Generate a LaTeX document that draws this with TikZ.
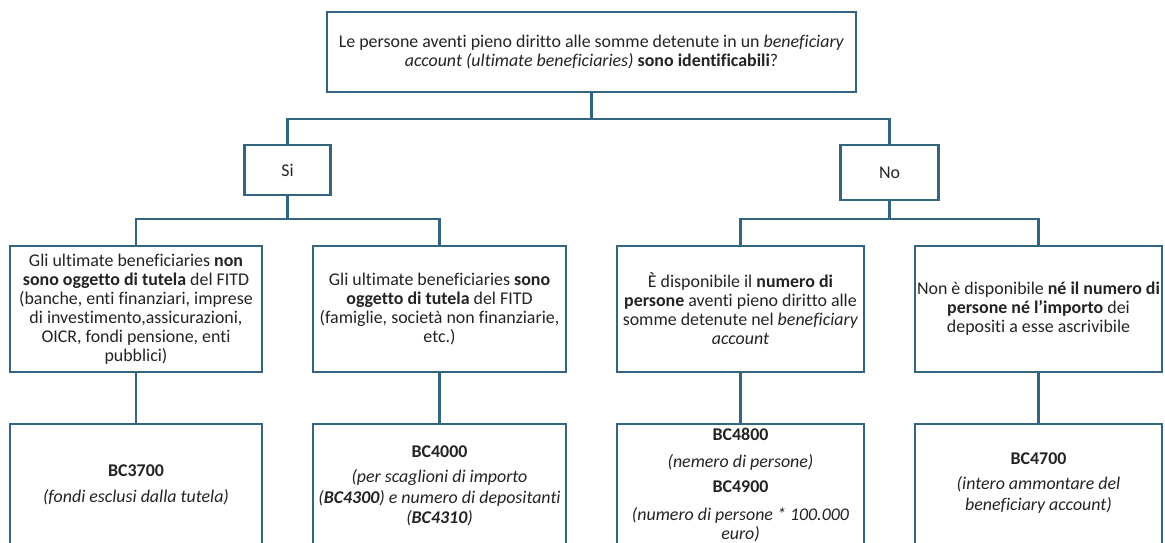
\documentclass[tikz,border=0pt]{standalone}
\usepackage{fontspec}
\setmainfont{Carlito}[Ligatures=NoCommon]
\definecolor{edge}{RGB}{52,101,128}
\definecolor{ink}{RGB}{35,35,35}
\begin{document}
\begin{tikzpicture}[x=1pt,y=-1pt,
  box/.style={draw=edge, line width=2.2pt, inner sep=0pt, outer sep=0pt, text=ink,
     align=center, font=\fontsize{17.9}{19}\selectfont},
  lbl/.style={inner sep=0pt, text=ink, align=center, font=\fontsize{17.9}{20.5}\selectfont},
  link/.style={draw=edge, line width=2.2pt}]
\useasboundingbox (0,0) rectangle (1165,543);
\clip (0,0) rectangle (1165,543);
\node[box, minimum width=529pt, minimum height=80pt] (top) at (591.5,52)
  {Le persone aventi pieno diritto alle somme detenute in un \textit{beneficiary}\\
   \textit{account (ultimate beneficiaries)} \textbf{sono identificabili}?};
\node[box, minimum width=86pt, minimum height=50pt] (si) at (287.5,170) {Si};
\node[box, minimum width=98pt, minimum height=55pt] (no) at (889.5,172.5) {No};
\node[box, minimum width=252pt, minimum height=126pt] (b1) at (136,309)
  {Gli ultimate beneficiaries \textbf{non}\\
   \textbf{sono oggetto di tutela} del FITD\\
   (banche, enti finanziari, imprese\\
   di investimento,assicurazioni,\\
   OICR, fondi pensione, enti\\
   pubblici)};
\node[box, minimum width=253pt, minimum height=126pt] (b2) at (439.5,309)
  {Gli ultimate beneficiaries \textbf{sono}\\
   \textbf{oggetto di tutela} del FITD\\
   (famiglie, società non finanziarie,\\
   etc.)};
\node[box, minimum width=247pt, minimum height=126pt] (b3) at (740.5,309)
  {È disponibile il \textbf{numero di}\\
   \textbf{persone} aventi pieno diritto alle\\
   somme detenute nel \textit{beneficiary}\\
   \textit{account}};
\node[box, minimum width=247pt, minimum height=126pt] (b4) at (1038.5,309)
  {Non è disponibile \textbf{né il numero di}\\
   \textbf{persone né l’importo} dei\\
   depositi a esse ascrivibile};
\node[box, minimum width=252pt, minimum height=180pt] (b5) at (136,514) {};
\node[box, minimum width=253pt, minimum height=180pt] (b6) at (439.5,514) {};
\node[box, minimum width=247pt, minimum height=180pt] (b7) at (740.5,514) {};
\node[box, minimum width=247pt, minimum height=180pt] (b8) at (1038.5,514) {};
\node[lbl] (t5) at (136,485) {\textbf{BC3700}\\[5pt] \textit{(fondi esclusi dalla tutela)}};
\node[lbl] (t6) at (439.5,486) {\textbf{BC4000}\\[5pt] \textit{(per scaglioni di importo}\\
   \textit{(\textbf{BC4300}) e numero di depositanti}\\ \textit{(\textbf{BC4310})}};
\node[lbl] (t7) at (740.5,485.5) {\textbf{BC4800}\\[6pt] \textit{(nemero di persone)}\\[5pt]
   \textbf{BC4900}\\[7pt] \textit{(numero di persone * 100.000}\\[-1pt] \textit{euro)}};
\node[lbl] (t8) at (1038.5,483) {\textbf{BC4700}\\[5pt] \textit{(intero ammontare del}\\
   \textit{beneficiary account)}};
\draw[link] (top.south) -- ++(0,27) -| (si.north);
\draw[link] (top.south) -- ++(0,27) -| (no.north);
\draw[link] (si.south) -- ++(0,24) -| (b1.north);
\draw[link] (si.south) -- ++(0,24) -| (b2.north);
\draw[link] (no.south) -- ++(0,19) -| (b3.north);
\draw[link] (no.south) -- ++(0,19) -| (b4.north);
\draw[link] (b1.south) -- (b5.north);
\draw[link] (b2.south) -- (b6.north);
\draw[link] (b3.south) -- (b7.north);
\draw[link] (b4.south) -- (b8.north);
\end{tikzpicture}
\end{document}
